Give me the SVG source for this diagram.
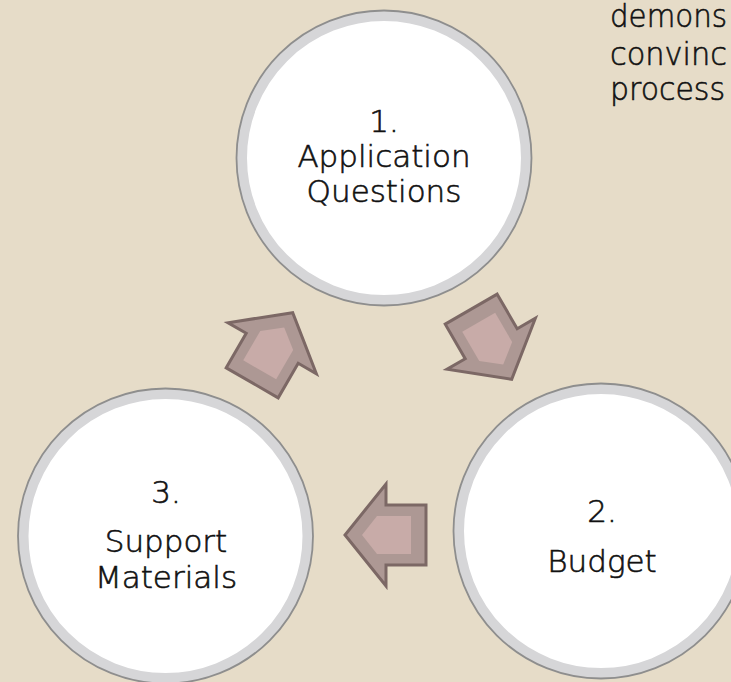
<svg xmlns="http://www.w3.org/2000/svg" xmlns:xlink="http://www.w3.org/1999/xlink" width="731" height="682" viewBox="0 0 731 682">
<style>
.ring{fill:#ffffff;stroke:#d6d6d8;stroke-width:10}
.edge{fill:none;stroke:#8e8e8e;stroke-width:1.8}
.lbl{font-family:"DejaVu Sans",sans-serif;font-weight:200;font-size:31px;fill:#111111;stroke:#111111;stroke-width:0.6;text-anchor:middle}
.side{font-family:"DejaVu Sans",sans-serif;font-weight:200;font-size:32px;fill:#111111;stroke:#111111;stroke-width:0.6}
.aout{fill:#ad9894;stroke:#7c6865;stroke-width:3;stroke-linejoin:miter}
.ain{fill:#c8aba8}
</style>
<defs>
<g id="arrow">
<polygon class="aout" points="-81,-30 -41,-30 -41,-51 0,0 -41,51 -41,30 -81,30"/>
<polygon class="ain" points="-17,0 -32,-19 -66,-19 -66,19 -32,19"/>
</g>
</defs>
<rect width="731" height="682" fill="#e6dcc8"/>
<g id="side-text">
<text class="side" x="610" y="27" textLength="117" lengthAdjust="spacingAndGlyphs">demons</text>
<text class="side" x="610" y="65" textLength="117" lengthAdjust="spacingAndGlyphs">convinc</text>
<text class="side" x="610" y="100" textLength="115" lengthAdjust="spacingAndGlyphs">process</text>
</g>
<g id="connectors">
<use xlink:href="#arrow" transform="translate(511.7,379.3) rotate(60)"/>
<use xlink:href="#arrow" transform="translate(345,535) rotate(180)"/>
<use xlink:href="#arrow" transform="translate(292.7,312.7) rotate(-60)"/>
</g>
<g id="node1">
<circle class="ring" cx="384" cy="158" r="142"/>
<circle class="edge" cx="384" cy="158" r="147.5"/>
<text class="lbl" x="384" y="132">1.</text>
<text class="lbl" x="384" y="167">Application</text>
<text class="lbl" x="384" y="202">Questions</text>
</g>
<g id="node2">
<circle class="ring" cx="601" cy="531" r="142"/>
<circle class="edge" cx="601" cy="531" r="147.5"/>
<text class="lbl" x="602" y="522">2.</text>
<text class="lbl" x="602" y="572">Budget</text>
</g>
<g id="node3">
<circle class="ring" cx="165.5" cy="536" r="142"/>
<circle class="edge" cx="165.5" cy="536" r="147.5"/>
<text class="lbl" x="166" y="503">3.</text>
<text class="lbl" x="166" y="552">Support</text>
<text class="lbl" x="166" y="588">Materials</text>
</g>
</svg>
